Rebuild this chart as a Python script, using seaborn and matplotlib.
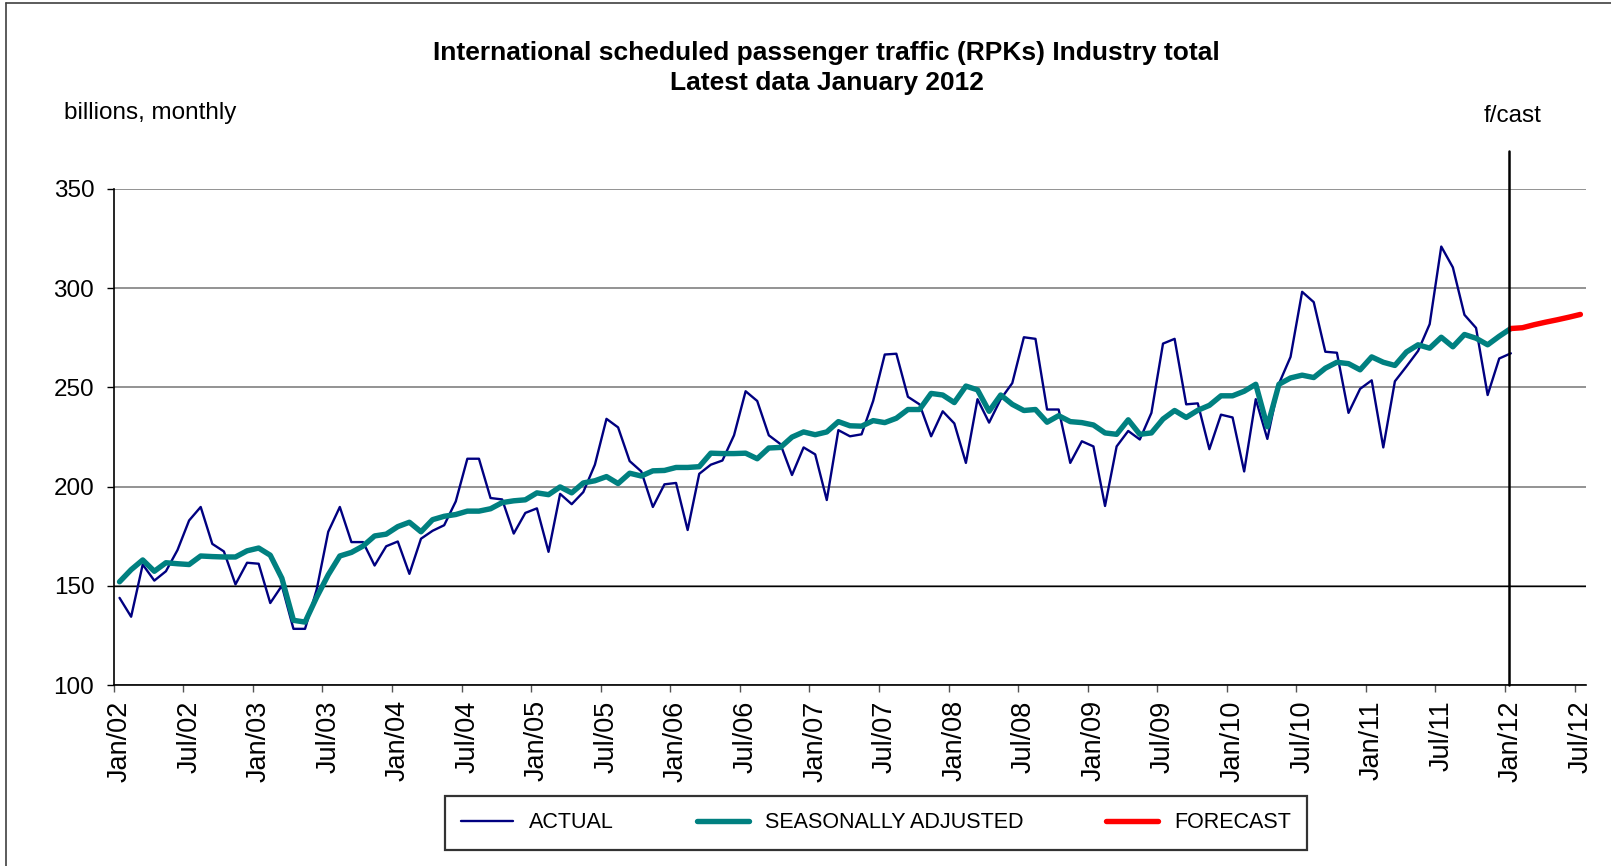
import pandas as pd
import matplotlib.pyplot as plt
import seaborn as sns
from matplotlib.lines import Line2D

# --- data (billions RPK, monthly, Jan 2002 .. Jan 2012) ---
actual = [
    143.9, 134.4, 160.7, 152.6, 157.3, 168.0, 182.9, 189.7, 171.1, 167.3, 150.7, 161.6,
    161.1, 141.3, 150.0, 128.3, 128.3, 148.0, 177.2, 189.7, 172.0, 172.0, 160.2, 169.9,
    172.3, 156.0, 173.7, 177.7, 180.5, 192.5, 214.0, 214.0, 194.2, 193.5, 176.3, 186.7,
    189.0, 167.1, 196.3, 191.1, 197.2, 211.0, 234.1, 229.8, 212.8, 207.6, 189.7, 201.1,
    201.8, 178.1, 206.4, 211.0, 213.1, 225.8, 248.0, 243.1, 225.8, 221.4, 205.8, 219.7,
    216.2, 193.2, 228.4, 225.3, 226.3, 243.1, 266.5, 266.9, 245.2, 241.4, 225.3, 237.9,
    231.8, 211.9, 244.0, 232.2, 244.0, 252.1, 275.2, 274.4, 238.8, 238.8, 211.9, 222.8,
    220.2, 190.2, 220.2, 228.0, 223.7, 237.1, 272.0, 274.4, 241.4, 241.9, 218.8, 236.2,
    234.8, 207.6, 244.0, 224.0, 251.8, 265.3, 298.1, 292.9, 267.9, 267.4, 237.1, 249.2,
    253.5, 219.7, 253.0, 260.5, 268.3, 281.8, 320.9, 310.4, 286.5, 279.9, 246.1, 264.5,
    267.1,
]
seasonally_adjusted = [
    152.0, 158.1, 163.0, 157.3, 161.6, 161.1, 160.7, 165.0, 164.7, 164.5, 164.5, 167.6,
    169.0, 165.4, 153.8, 132.6, 131.7, 144.2, 155.5, 165.0, 166.8, 170.0, 175.1, 176.0,
    179.8, 182.0, 177.2, 183.3, 185.0, 185.9, 187.6, 187.6, 188.8, 191.9, 192.8, 193.3,
    196.8, 195.9, 199.8, 196.8, 201.8, 202.9, 205.0, 201.5, 206.7, 205.3, 207.9, 208.1,
    209.6, 209.6, 210.0, 216.8, 216.6, 216.6, 216.8, 214.0, 219.4, 219.7, 224.9, 227.5,
    226.1, 227.5, 232.7, 230.6, 230.4, 233.2, 232.2, 234.4, 238.8, 238.8, 246.9, 246.1,
    242.3, 250.6, 248.7, 237.9, 246.1, 241.4, 238.3, 238.8, 232.4, 235.7, 232.7, 232.2,
    231.0, 227.0, 226.3, 233.6, 226.3, 227.0, 234.0, 238.3, 234.8, 238.4, 240.9, 245.7,
    245.7, 248.0, 251.5, 230.1, 251.5, 254.7, 256.1, 254.9, 259.6, 262.6, 261.9, 258.8,
    265.3, 262.6, 261.0, 267.8, 271.4, 269.7, 275.2, 270.4, 276.6, 274.7, 271.4, 275.7,
    279.6,
]
# Jan 2012 .. Jul 2012
forecast = [279.6, 280.0, 281.5, 282.8, 284.0, 285.3, 286.7]

tick_labels = [
    "Jan/02", "Jul/02", "Jan/03", "Jul/03", "Jan/04", "Jul/04", "Jan/05", "Jul/05",
    "Jan/06", "Jul/06", "Jan/07", "Jul/07", "Jan/08", "Jul/08", "Jan/09", "Jul/09",
    "Jan/10", "Jul/10", "Jan/11", "Jul/11", "Jan/12", "Jul/12",
]

n_hist = len(actual)
df_hist = pd.DataFrame({"month": range(n_hist), "actual": actual, "sa": seasonally_adjusted})
df_fc = pd.DataFrame({"month": range(n_hist - 1, n_hist - 1 + len(forecast)), "fc": forecast})
n_total = n_hist - 1 + len(forecast)

sns.set_theme(style="white")
plt.rcParams["font.family"] = ["Liberation Sans", "DejaVu Sans"]
plt.rcParams["text.color"] = "black"
plt.rcParams["xtick.color"] = "black"
plt.rcParams["ytick.color"] = "black"

fig = plt.figure(figsize=(16.11, 8.66), dpi=100)
ax = fig.add_axes([0.0706, 0.209, 0.914, 0.573])

sns.lineplot(data=df_hist, x="month", y="actual", ax=ax, color="#000080",
             linewidth=1.7, label="ACTUAL", zorder=3)
sns.lineplot(data=df_hist, x="month", y="sa", ax=ax, color="#008080",
             linewidth=3.9, label="SEASONALLY ADJUSTED", zorder=4)
sns.lineplot(data=df_fc, x="month", y="fc", ax=ax, color="#FF0000",
             linewidth=3.9, label="FORECAST", zorder=5)

handles, labels = ax.get_legend_handles_labels()
ax.get_legend().remove()

# axes
ax.set_xlim(-0.5, n_total - 0.5)
ax.set_ylim(100, 350)
ax.set_yticks([100, 150, 200, 250, 300, 350])
ax.tick_params(axis="y", labelsize=17.5, length=5, width=1, color="black",
               direction="out", left=True, pad=9, labelcolor="black")

ax.set_xticks(range(0, n_total, 6))
ax.set_xticklabels(tick_labels, rotation=90, fontsize=19.5, color="black")
ax.set_xticks([b - 0.5 for b in range(0, n_total + 1, 6)], minor=True)
ax.tick_params(axis="x", which="major", length=0, pad=11)
ax.tick_params(axis="x", which="minor", length=5, width=1, color="#555555",
               direction="out", bottom=True)

ax.set_xlabel("")
ax.set_ylabel("")
for side in ["top", "right"]:
    ax.spines[side].set_visible(False)
ax.spines["left"].set_color("black")
ax.spines["bottom"].set_color("black")
ax.spines["left"].set_linewidth(1.2)
ax.spines["bottom"].set_linewidth(1.2)

ax.grid(axis="y", color="#808080", linewidth=1.2)
ax.grid(axis="x", visible=False)
ax.axhline(150, color="black", linewidth=1.0, zorder=1)

# forecast divider
ax.axvline(n_hist - 1.2, ymin=0, ymax=(369 - 100) / 250, color="black",
           linewidth=1.8, clip_on=False, zorder=6)

# texts
fig.text(0.513, 0.9215,
         "International scheduled passenger traffic (RPKs) Industry total\nLatest data January 2012",
         ha="center", va="center", fontsize=19, fontweight="bold", linespacing=1.3)
fig.text(0.0397, 0.8695, "billions, monthly", ha="left", va="center", fontsize=17.5)
fig.text(0.9389, 0.866, "f/cast", ha="center", va="center", fontsize=17.5)

# legend
leg = fig.legend(handles, labels, loc="center", ncol=3,
                 bbox_to_anchor=(876 / 1611, 1 - 823 / 866),
                 fontsize=15.5, handlelength=2.4, handletextpad=0.75,
                 columnspacing=3.85, borderpad=0.77,
                 frameon=True, fancybox=False, borderaxespad=0)
leg.get_frame().set_edgecolor("black")
leg.get_frame().set_linewidth(1.6)

# chart-area border (left and top visible)
fig.add_artist(Line2D([6 / 1611, 6 / 1611], [0, 1 - 3 / 866], color="#404040", linewidth=1.2))
fig.add_artist(Line2D([6 / 1611, 1], [1 - 3 / 866, 1 - 3 / 866], color="#404040", linewidth=1.2))

fig.savefig("out.png", dpi=100)
